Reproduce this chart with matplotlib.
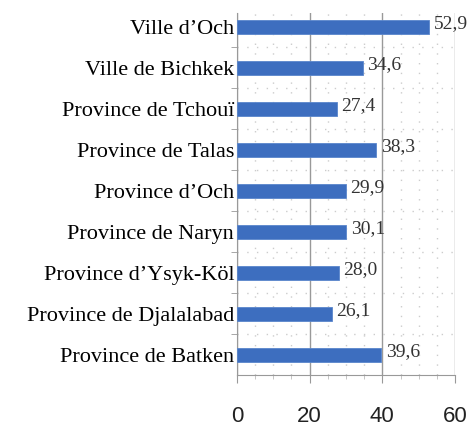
import matplotlib.pyplot as plt
from matplotlib.ticker import MultipleLocator

categories = ["Province de Batken", "Province de Djalalabad", "Province d\u2019Ysyk-K\u00f6l",
              "Province de Naryn", "Province d\u2019Och", "Province de Talas",
              "Province de Tchou\u00ef", "Ville de Bichkek", "Ville d\u2019Och"]
values = [39.6, 26.1, 28.0, 30.1, 29.9, 38.3, 27.4, 34.6, 52.9]
labels = ["39,6", "26,1", "28,0", "30,1", "29,9", "38,3", "27,4", "34,6", "52,9"]
xticks = [0, 20, 40, 60]

fig = plt.figure(figsize=(4.73, 4.32), dpi=100)
ax = fig.add_axes([0.501, 0.132, 0.461, 0.838])

pos = list(range(len(categories)))
ax.barh(pos, values, height=0.36, color="#3d6ebf", edgecolor="#5a86cc", linewidth=0.6, zorder=3)

for p, v, lab in zip(pos, values, labels):
    ax.text(v + 1.3, p + 0.08, lab, va="center", ha="left", fontsize=14,
            family="Liberation Serif", color="#333333", zorder=4)

ax.set_xlim(0, 60)
ax.set_ylim(-0.49, 8.34)
ax.set_xticks(xticks)
ax.xaxis.set_minor_locator(MultipleLocator(5))
ax.set_yticks(pos)
ax.set_yticklabels(categories, family="Liberation Serif", fontsize=16)
ax.set_yticks([p + 0.5 for p in pos[:-1]], minor=True)

for t in ax.get_xticklabels():
    t.set_family("Liberation Sans")
    t.set_fontsize(16)
    t.set_color("#222222")

ax.tick_params(axis="y", which="major", length=0, pad=2)
ax.tick_params(axis="y", which="minor", length=4, color="#999999", direction="out")
ax.tick_params(axis="x", which="major", length=6, color="#999999", pad=16)
ax.tick_params(axis="x", which="minor", length=3, color="#bbbbbb")

ax.grid(True, axis="x", which="major", color="#999999", linewidth=1.0, zorder=1)
ax.grid(True, axis="x", which="minor", color="#cccccc", linewidth=1.0, linestyle=(0, (1, 6)), zorder=0)
ax.grid(True, axis="y", which="minor", color="#cccccc", linewidth=1.0, linestyle=(0, (1, 6)), zorder=0)

for side in ["top", "right"]:
    ax.spines[side].set_visible(False)
ax.spines["left"].set_color("#999999")
ax.spines["bottom"].set_color("#999999")

fig.savefig("out.png", dpi=100)
